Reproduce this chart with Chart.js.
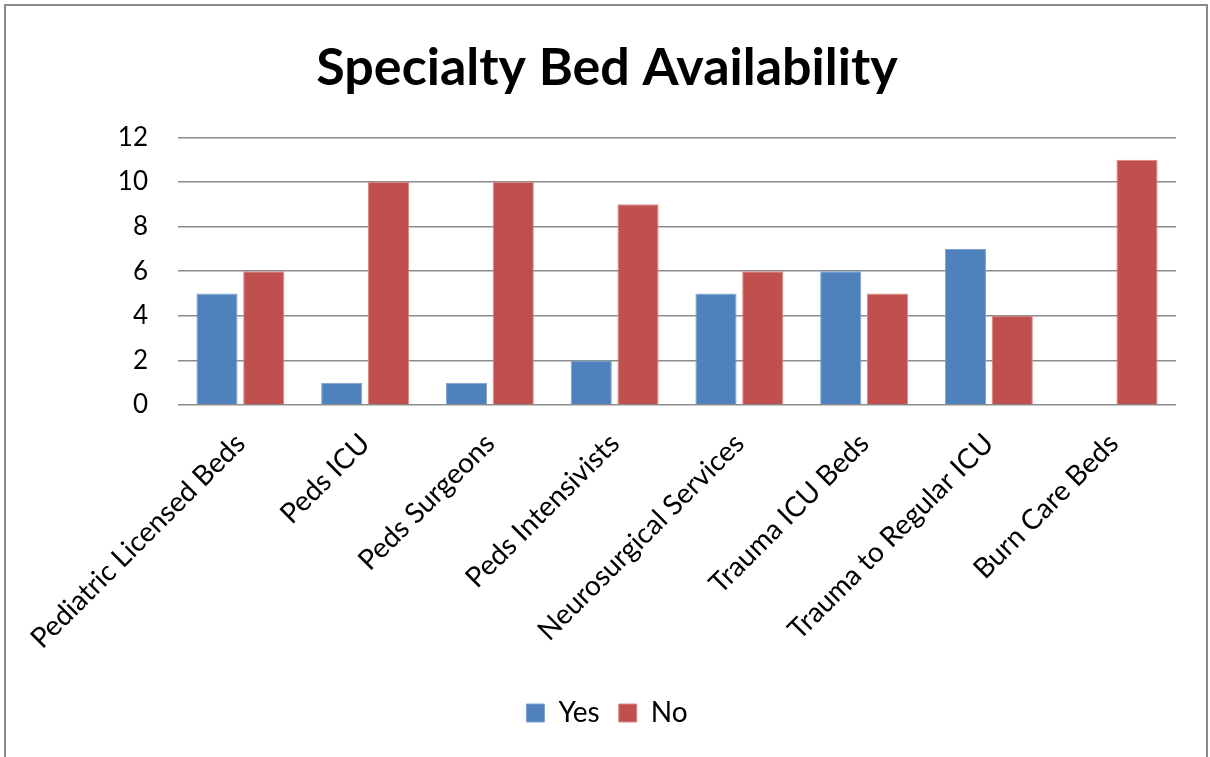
<!DOCTYPE html>
<html>
<head>
<meta charset="utf-8">
<script src="https://cdn.jsdelivr.net/npm/chart.js@4"></script>
<style>
html,body{margin:0;padding:0;background:#fff;}
#wrap{position:relative;width:1210px;height:757px;}
</style>
</head>
<body>
<div id="wrap"><canvas id="c" width="1210" height="757"></canvas></div>
<script>
const categories = ["Pediatric Licensed Beds","Peds ICU","Peds Surgeons","Peds Intensivists","Neurosurgical Services","Trauma ICU Beds","Trauma to Regular ICU","Burn Care Beds"];
const yesValues = [5,1,1,2,5,6,7,0];
const noValues = [6,10,10,9,6,5,4,11];
const yTicks = [0,2,4,6,8,10,12];
const titleText = "Specialty Bed Availability";

const FONT = "Lato, 'Open Sans', sans-serif";

const frame = {
  id:'frame',
  beforeDraw(chart){
    const ctx = chart.ctx;
    ctx.save();
    ctx.fillStyle='#fff';
    ctx.fillRect(0,0,chart.width,chart.height);
    ctx.strokeStyle='#8a8a8a';
    ctx.lineWidth=2;
    ctx.strokeRect(5,5,1202,800);
    ctx.restore();
  }
};

new Chart(document.getElementById('c'), {
  type:'bar',
  data:{
    labels:categories,
    datasets:[
      {label:'Yes',data:yesValues,backgroundColor:'#4F81BD',borderColor:'#7EA3D0',borderWidth:1,categoryPercentage:0.75,barPercentage:0.88},
      {label:'No',data:noValues,backgroundColor:'#C0504D',borderColor:'#D88A88',borderWidth:1,categoryPercentage:0.75,barPercentage:0.88}
    ]
  },
  options:{
    responsive:false,
    animation:false,
    layout:{padding:{left:38,right:34,top:0,bottom:20}},
    plugins:{
      title:{display:true,text:titleText,color:'#000',font:{family:FONT,size:52,weight:'bold'},padding:{top:37,bottom:38}},
      legend:{position:'bottom',labels:{color:'#000',font:{family:FONT,size:28},boxWidth:18,boxHeight:18,padding:19}},
      tooltip:{enabled:false}
    },
    scales:{
      x:{
        grid:{display:false},
        border:{display:false},
        ticks:{color:'#000',font:{family:FONT,size:28},maxRotation:45,minRotation:45,padding:14,autoSkip:false},
        afterFit(s){s.height=275;}
      },
      y:{
        min:0,max:12,
        afterBuildTicks(s){s.ticks=yTicks.map(v=>({value:v}));},
        grid:{color:'#8c8c8c',lineWidth:1.5,drawTicks:false},
        border:{display:false},
        ticks:{color:'#000',font:{family:FONT,size:26},padding:30},
        afterFit(s){s.width=140;}
      }
    }
  },
  plugins:[frame]
});
</script>
</body>
</html>
